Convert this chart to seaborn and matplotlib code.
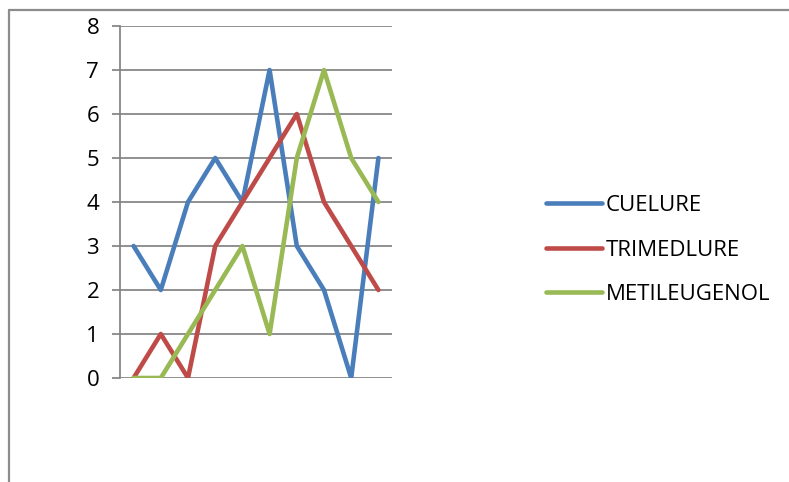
import matplotlib
matplotlib.use('Agg')
import matplotlib.pyplot as plt
from matplotlib.lines import Line2D
import seaborn as sns
import pandas as pd

# data
points = list(range(1, 11))
cuelure = [3, 2, 4, 5, 4, 7, 3, 2, 0, 5]
trimedlure = [0, 1, 0, 3, 4, 5, 6, 4, 3, 2]
metileugenol = [0, 0, 1, 2, 3, 1, 5, 7, 5, 4]
series_names = ['CUELURE', 'TRIMEDLURE', 'METILEUGENOL']
colors = {'CUELURE': '#4A7EBB', 'TRIMEDLURE': '#BE4B48', 'METILEUGENOL': '#98B954'}

df = pd.concat([
    pd.DataFrame({'Punto': points, 'Valor': cuelure, 'Serie': 'CUELURE'}),
    pd.DataFrame({'Punto': points, 'Valor': trimedlure, 'Serie': 'TRIMEDLURE'}),
    pd.DataFrame({'Punto': points, 'Valor': metileugenol, 'Serie': 'METILEUGENOL'}),
])

sns.set_style('white')
plt.rcParams['font.family'] = ['Open Sans', 'DejaVu Sans']
plt.rcParams['text.color'] = 'black'
plt.rcParams['ytick.labelcolor'] = 'black'

fig = plt.figure(figsize=(7.89, 4.82), dpi=100)
ax = fig.add_axes([120 / 789, 104 / 482, 272 / 789, 352 / 482])

sns.lineplot(data=df, x='Punto', y='Valor', hue='Serie', hue_order=series_names,
             palette=colors, linewidth=3.3, ax=ax, legend=False,
             solid_capstyle='round', solid_joinstyle='round')

ax.set_xlim(0.5, 10.5)
ax.set_ylim(0, 8)
ax.set_yticks(range(0, 9))
ax.set_xticks([])
ax.set_xlabel('')
ax.set_ylabel('')
ax.grid(axis='y', color='#878787', linewidth=1.3)
ax.set_axisbelow(True)
for side in ['top', 'right', 'bottom']:
    ax.spines[side].set_visible(False)
ax.spines['left'].set_color('#878787')
ax.spines['left'].set_linewidth(1.3)
ax.tick_params(axis='y', length=6, width=1.3, color='#878787', pad=9,
               labelsize=16, labelcolor='black', left=True)

handles = [Line2D([0], [0], color=colors[s], linewidth=3.3, solid_capstyle='round') for s in series_names]
fig.legend(handles, series_names, loc='center left', bbox_to_anchor=(535 / 789, 1 - 250 / 482),
           frameon=False, fontsize=16, handlelength=2.5, handletextpad=0.2, labelspacing=1.05,
           borderpad=0, labelcolor='black')

# outer chart frame (only top and left visible in the crop)
fig.add_artist(Line2D([8.5 / 789, 8.5 / 789], [0, 1 - 10 / 482], color='#8c8c8c', linewidth=1.6))
fig.add_artist(Line2D([8.5 / 789, 1], [1 - 10 / 482, 1 - 10 / 482], color='#8c8c8c', linewidth=1.6))

fig.savefig('out.png', dpi=100)
